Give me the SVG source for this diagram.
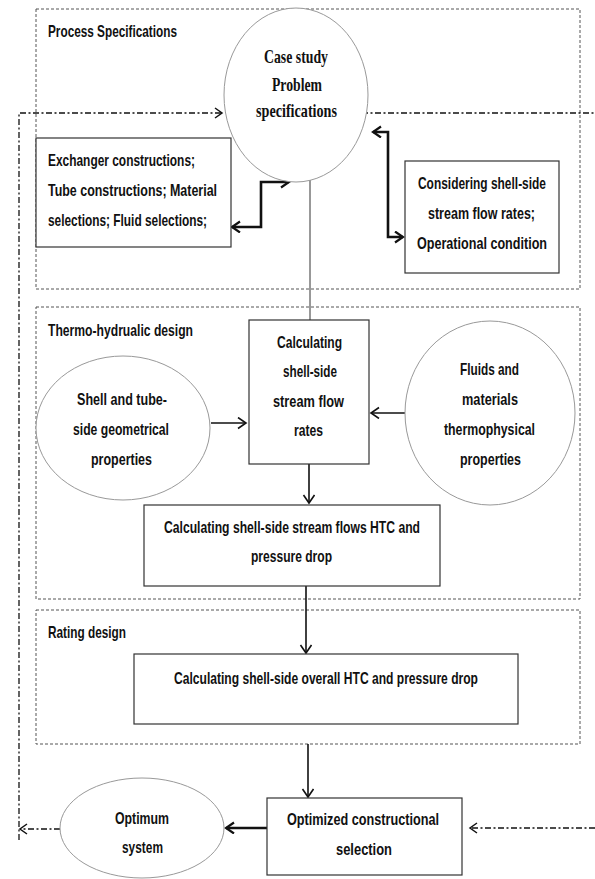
<svg xmlns="http://www.w3.org/2000/svg" width="595" height="879" viewBox="0 0 595 879">
<style>
.sec{fill:none;stroke:#555;stroke-width:1;stroke-dasharray:3,2}
.box{fill:#fff;stroke:#333;stroke-width:1.2}
.ell{fill:#fff;stroke:#999;stroke-width:1}
.t{font-family:"Liberation Sans Narrow","Liberation Sans",Arial,sans-serif;font-weight:bold;font-size:17px;fill:#111}
.c{text-anchor:middle}
.tm{font-family:"Liberation Serif","Times New Roman",serif;font-weight:bold;font-size:19px;fill:#111;text-anchor:middle}
.ar{fill:none;stroke:#111;stroke-width:1.6}
.ak{fill:none;stroke:#111;stroke-width:2.6}
.dd{fill:none;stroke:#111;stroke-width:1.3;stroke-dasharray:6,2.5,2,2.5}
.ln{fill:none;stroke:#333;stroke-width:1}
</style>
<defs>
<marker id="a" markerUnits="userSpaceOnUse" markerWidth="14" markerHeight="14" refX="9" refY="6" orient="auto-start-reverse" viewBox="0 0 14 14">
<path d="M1,0.5 L9,6 L1,11.5" fill="none" stroke="#111" stroke-width="1.6"/>
</marker>
<marker id="ak" markerUnits="userSpaceOnUse" markerWidth="14" markerHeight="14" refX="9" refY="6" orient="auto-start-reverse" viewBox="0 0 14 14">
<path d="M1,0.5 L9,6 L1,11.5" fill="none" stroke="#111" stroke-width="2.2"/>
</marker>
<marker id="ad" markerUnits="userSpaceOnUse" markerWidth="14" markerHeight="14" refX="8" refY="6" orient="auto-start-reverse" viewBox="0 0 14 14">
<path d="M1,1 L8,6 L1,11" fill="none" stroke="#111" stroke-width="1.5"/>
</marker>
</defs>

<g id="sections">
<rect id="sec-process" class="sec" x="36" y="9" width="544" height="280"/>
<rect id="sec-thermo" class="sec" x="36" y="307" width="544" height="292"/>
<rect id="sec-rating" class="sec" x="36" y="610" width="544" height="134"/>
<text class="t" x="48" y="37" textLength="129" lengthAdjust="spacingAndGlyphs">Process Specifications</text>
<text class="t" x="48" y="336" textLength="145" lengthAdjust="spacingAndGlyphs">Thermo-hydrualic design</text>
<text class="t" x="48" y="638" textLength="78" lengthAdjust="spacingAndGlyphs">Rating design</text>
</g>

<g id="connectors">
<path class="ln" d="M310,180 L310,320"/>
<path class="ak" d="M232,227 L261,227 L261,182 L289,182" marker-start="url(#ak)" marker-end="url(#ak)"/>
<path class="ak" d="M373,132 L388,132 L388,237 L403,237" marker-start="url(#ak)" marker-end="url(#ak)"/>
<path class="ar" d="M211,423 L246,423" marker-end="url(#a)"/>
<path class="ar" d="M405,413 L371,413" marker-end="url(#a)"/>
<path class="ar" d="M309,464 L309,503" marker-end="url(#a)"/>
<path class="ar" d="M306,586 L306,653" marker-end="url(#a)"/>
<path class="ar" d="M308,744 L308,797" marker-end="url(#a)"/>
<path class="ak" d="M267,828 L226,828" marker-end="url(#ak)"/>
<path class="dd" d="M19,840 L19,113 L222,113" marker-end="url(#ad)"/>
<path class="dd" d="M362,113 L595,113"/>
<path class="dd" d="M60,829 L20,829" marker-end="url(#ad)"/>
<path class="dd" d="M595,828 L470,828" marker-end="url(#ad)"/>
</g>

<g id="case-study">
<ellipse class="ell" cx="296" cy="95" rx="72" ry="87"/>
<text class="tm" x="296" y="63" textLength="64" lengthAdjust="spacingAndGlyphs">Case study</text>
<text class="tm" x="297" y="91" textLength="50" lengthAdjust="spacingAndGlyphs">Problem</text>
<text class="tm" x="296.5" y="117" textLength="81" lengthAdjust="spacingAndGlyphs">specifications</text>
</g>

<g id="exchanger">
<rect class="box" x="36" y="138" width="195" height="109"/>
<text class="t" x="48" y="166" textLength="147" lengthAdjust="spacingAndGlyphs">Exchanger constructions;</text>
<text class="t" x="48" y="196" textLength="169" lengthAdjust="spacingAndGlyphs">Tube constructions; Material</text>
<text class="t" x="48" y="226" textLength="159" lengthAdjust="spacingAndGlyphs">selections; Fluid selections;</text>
</g>

<g id="considering">
<rect class="box" x="405" y="161" width="154" height="112"/>
<text class="t c" x="482" y="189" textLength="128" lengthAdjust="spacingAndGlyphs">Considering shell-side</text>
<text class="t c" x="481.5" y="219" textLength="107" lengthAdjust="spacingAndGlyphs">stream flow rates;</text>
<text class="t c" x="482" y="249" textLength="130" lengthAdjust="spacingAndGlyphs">Operational condition</text>
</g>

<g id="shell-tube">
<ellipse class="ell" cx="123" cy="428" rx="87" ry="72"/>
<text class="t c" x="122" y="405" textLength="90" lengthAdjust="spacingAndGlyphs">Shell and tube-</text>
<text class="t c" x="121" y="435" textLength="96" lengthAdjust="spacingAndGlyphs">side geometrical</text>
<text class="t c" x="121.5" y="465" textLength="61" lengthAdjust="spacingAndGlyphs">properties</text>
</g>

<g id="calc-rates">
<rect class="box" x="249" y="320" width="120" height="144"/>
<text class="t c" x="309.5" y="348" textLength="65" lengthAdjust="spacingAndGlyphs">Calculating</text>
<text class="t c" x="310" y="377" textLength="54" lengthAdjust="spacingAndGlyphs">shell-side</text>
<text class="t c" x="308.5" y="407" textLength="71" lengthAdjust="spacingAndGlyphs">stream flow</text>
<text class="t c" x="308.5" y="436" textLength="29" lengthAdjust="spacingAndGlyphs">rates</text>
</g>

<g id="fluids">
<ellipse class="ell" cx="490" cy="413" rx="85" ry="92"/>
<text class="t c" x="489.5" y="375" textLength="59" lengthAdjust="spacingAndGlyphs">Fluids and</text>
<text class="t c" x="490" y="405" textLength="56" lengthAdjust="spacingAndGlyphs">materials</text>
<text class="t c" x="489.5" y="435" textLength="91" lengthAdjust="spacingAndGlyphs">thermophysical</text>
<text class="t c" x="490.5" y="465" textLength="61" lengthAdjust="spacingAndGlyphs">properties</text>
</g>

<g id="calc-htc">
<rect class="box" x="144" y="505" width="296" height="81"/>
<text class="t c" x="292" y="533" textLength="256" lengthAdjust="spacingAndGlyphs">Calculating shell-side stream flows HTC and</text>
<text class="t c" x="291.5" y="562" textLength="81" lengthAdjust="spacingAndGlyphs">pressure drop</text>
</g>

<g id="calc-overall">
<rect class="box" x="134" y="654" width="384" height="70"/>
<text class="t c" x="326" y="684" textLength="304" lengthAdjust="spacingAndGlyphs">Calculating shell-side overall HTC and pressure drop</text>
</g>

<g id="optimized">
<rect class="box" x="267" y="798" width="195" height="77"/>
<text class="t c" x="363" y="825" textLength="152" lengthAdjust="spacingAndGlyphs">Optimized constructional</text>
<text class="t c" x="364" y="855" textLength="56" lengthAdjust="spacingAndGlyphs">selection</text>
</g>

<g id="optimum">
<ellipse class="ell" cx="142" cy="828" rx="82" ry="50"/>
<text class="t c" x="142" y="824" textLength="54" lengthAdjust="spacingAndGlyphs">Optimum</text>
<text class="t c" x="142.5" y="853" textLength="41" lengthAdjust="spacingAndGlyphs">system</text>
</g>
</svg>
